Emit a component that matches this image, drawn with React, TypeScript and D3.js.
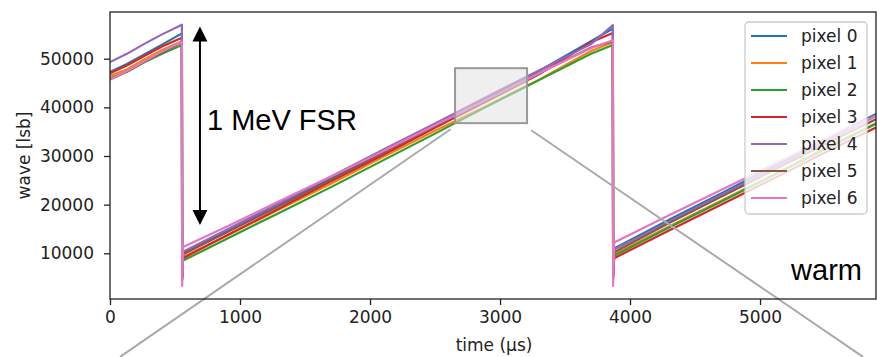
import React, { useEffect, useRef } from "react";
import * as d3 from "d3";

// sample times (µs) shared by every pixel trace
const times = [0, 130, 260, 400, 553, 555, 562, 900, 1300, 1700, 2100, 2500, 2900, 3300, 3700, 3868, 3870, 3878, 4300, 4700, 5100, 5500, 5950];

const pixel0 = [47300, 48900, 50800, 52900, 55200, 5200, 10000, 14700, 20100, 25500, 31000, 36500, 42000, 47500, 53600, 56200, 5500, 11000, 16900, 22300, 27800, 33300, 39400];
const pixel1 = [46500, 47800, 49800, 51800, 53600, 5000, 9300, 13600, 19000, 24300, 29800, 35200, 40300, 45700, 51600, 53400, 5600, 9800, 15500, 20800, 26100, 31600, 37500];
const pixel2 = [46000, 47300, 49200, 51000, 52800, 4800, 8500, 13000, 18300, 23600, 29100, 34600, 40200, 45600, 51000, 52800, 5400, 9500, 15300, 20600, 26000, 31400, 37400];
const pixel3 = [47000, 48600, 50500, 52500, 54300, 4600, 9000, 13700, 19200, 24800, 30200, 35800, 41300, 46800, 53400, 55300, 4900, 9000, 14700, 20000, 25300, 30700, 36600];
const pixel4 = [49300, 51000, 53000, 55000, 57000, 4500, 10300, 14900, 20300, 25800, 31300, 36700, 42200, 47600, 53000, 56900, 4800, 10800, 16500, 22000, 27400, 32900, 39000];
const pixel5 = [45700, 47300, 49300, 51300, 53400, 5000, 9800, 14300, 19700, 25100, 30600, 36100, 41500, 47000, 52300, 53600, 5300, 10200, 16200, 21600, 27000, 32400, 38300];
const pixel6 = [45800, 47400, 49400, 51500, 53500, 3300, 11300, 15500, 20700, 25800, 31000, 36300, 41600, 47000, 52200, 53800, 3300, 12200, 17800, 23000, 28200, 33400, 39000];

const seriesNames = ["pixel 0", "pixel 1", "pixel 2", "pixel 3", "pixel 4", "pixel 5", "pixel 6"];
const seriesValues = [pixel0, pixel1, pixel2, pixel3, pixel4, pixel5, pixel6];
const colors = ["#1f77b4", "#ff7f0e", "#2ca02c", "#d62728", "#9467bd", "#8c564b", "#e377c2"];

const xTicks = [0, 1000, 2000, 3000, 4000, 5000];
const yTicks = [10000, 20000, 30000, 40000, 50000];

// annotations in data units
const arrowX = 692;
const arrowTop = 56600;
const arrowBottom = 15800;
const zoomBox = { t0: 2654, t1: 3208, v0: 36760, v1: 48050 };
const connectorLeft = [[2620, 35500], [77, -11300]];
const connectorRight = [[3240, 35300], [5792, -11300]];

const W = 877;
const H = 357;
const margin = { top: 12, right: 1, bottom: 58, left: 110 };
const font = "'DejaVu Sans', sans-serif";

export default function App() {
  const svgRef = useRef<SVGSVGElement>(null);

  useEffect(() => {
    const svg = d3.select(svgRef.current);
    svg.selectAll("*").remove();

    const x = d3.scaleLinear().domain([0, 5892]).range([margin.left, W - margin.right]);
    const y = d3.scaleLinear().domain([607, 59600]).range([H - margin.bottom, margin.top]);

    svg.append("clipPath").attr("id", "plot-clip")
      .append("rect")
      .attr("x", margin.left).attr("y", margin.top)
      .attr("width", W - margin.right - margin.left)
      .attr("height", H - margin.bottom - margin.top);

    const line = d3.line<number>()
      .x((d, i) => x(times[i]))
      .y(d => y(d));

    const plot = svg.append("g").attr("clip-path", "url(#plot-clip)");
    seriesValues.forEach((vals, i) => {
      plot.append("path")
        .attr("d", line(vals))
        .attr("fill", "none")
        .attr("stroke", colors[i])
        .attr("stroke-width", 2.2)
        .attr("stroke-linejoin", "round");
    });

    // zoom rectangle
    svg.append("rect")
      .attr("x", x(zoomBox.t0))
      .attr("y", y(zoomBox.v1))
      .attr("width", x(zoomBox.t1) - x(zoomBox.t0))
      .attr("height", y(zoomBox.v0) - y(zoomBox.v1))
      .attr("fill", "rgba(225,225,225,0.55)")
      .attr("stroke", "#999")
      .attr("stroke-width", 2);

    // connectors
    [connectorLeft, connectorRight].forEach(c => {
      svg.append("line")
        .attr("x1", x(c[0][0])).attr("y1", y(c[0][1]))
        .attr("x2", x(c[1][0])).attr("y2", y(c[1][1]))
        .attr("stroke", "#aaa")
        .attr("stroke-width", 2);
    });

    // axes
    const xAxis = d3.axisBottom(x).tickValues(xTicks).tickSize(6).tickPadding(4).tickFormat(d3.format("d"));
    const gx = svg.append("g").attr("transform", `translate(0,${H - margin.bottom})`).call(xAxis);
    const yAxis = d3.axisLeft(y).tickValues(yTicks).tickSize(6).tickPadding(10).tickFormat(d3.format("d"));
    const gy = svg.append("g").attr("transform", `translate(${margin.left},0)`).call(yAxis);
    [gx, gy].forEach(g => {
      g.select(".domain").remove();
      g.selectAll("line").attr("stroke", "#222").attr("stroke-width", 1.3);
      g.selectAll("text").attr("fill", "#222").style("font-family", font).style("font-size", "17px");
    });
    gx.selectAll("text").attr("dy", "0.8em");

    // spines
    svg.append("rect")
      .attr("x", margin.left).attr("y", margin.top)
      .attr("width", W - margin.right - margin.left)
      .attr("height", H - margin.bottom - margin.top)
      .attr("fill", "none").attr("stroke", "#222").attr("stroke-width", 1.3);

    svg.append("text")
      .attr("x", (margin.left + W - margin.right) / 2 + 1)
      .attr("y", 351)
      .attr("text-anchor", "middle")
      .style("font-family", font).style("font-size", "17px").attr("fill", "#222")
      .text("time (µs)");

    svg.append("text")
      .attr("transform", `translate(30,${(margin.top + H - margin.bottom) / 2}) rotate(-90)`)
      .attr("text-anchor", "middle")
      .style("font-family", font).style("font-size", "17px").attr("fill", "#222")
      .text("wave [lsb]");

    // FSR arrow
    const ax = x(arrowX);
    const yt = y(arrowTop);
    const yb = y(arrowBottom);
    svg.append("line")
      .attr("x1", ax).attr("x2", ax).attr("y1", yt + 10).attr("y2", yb - 10)
      .attr("stroke", "#000").attr("stroke-width", 2);
    svg.append("path").attr("d", `M${ax},${yt} L${ax - 7.5},${yt + 15} L${ax + 7.5},${yt + 15} Z`).attr("fill", "#000");
    svg.append("path").attr("d", `M${ax},${yb} L${ax - 7.5},${yb - 15} L${ax + 7.5},${yb - 15} Z`).attr("fill", "#000");

    svg.append("text")
      .attr("x", 207).attr("y", 130)
      .style("font-family", "'Liberation Sans', Arial, sans-serif").style("font-size", "29px")
      .attr("fill", "#000")
      .text("1 MeV FSR");

    svg.append("text")
      .attr("x", 862).attr("y", 280)
      .attr("text-anchor", "end")
      .style("font-family", "'Liberation Sans', Arial, sans-serif").style("font-size", "29px")
      .attr("fill", "#000")
      .text("warm");

    // legend
    const legend = svg.append("g");
    legend.append("rect")
      .attr("x", 745).attr("y", 22).attr("width", 122).attr("height", 192)
      .attr("rx", 4)
      .attr("fill", "rgba(255,255,255,0.8)")
      .attr("stroke", "#ccc").attr("stroke-width", 1.3);
    seriesNames.forEach((name, i) => {
      const cy = 36 + i * 27;
      legend.append("line")
        .attr("x1", 751).attr("x2", 787).attr("y1", cy).attr("y2", cy)
        .attr("stroke", colors[i]).attr("stroke-width", 2);
      legend.append("text")
        .attr("x", 801).attr("y", cy).attr("dy", "0.35em")
        .style("font-family", font).style("font-size", "17px").attr("fill", "#222")
        .text(name);
    });
  }, []);

  return (
    <div style={{ position: "absolute", left: 0, top: 0, width: W, height: H, background: "#fff" }}>
      <svg ref={svgRef} width={W} height={H} style={{ display: "block" }}></svg>
    </div>
  );
}
